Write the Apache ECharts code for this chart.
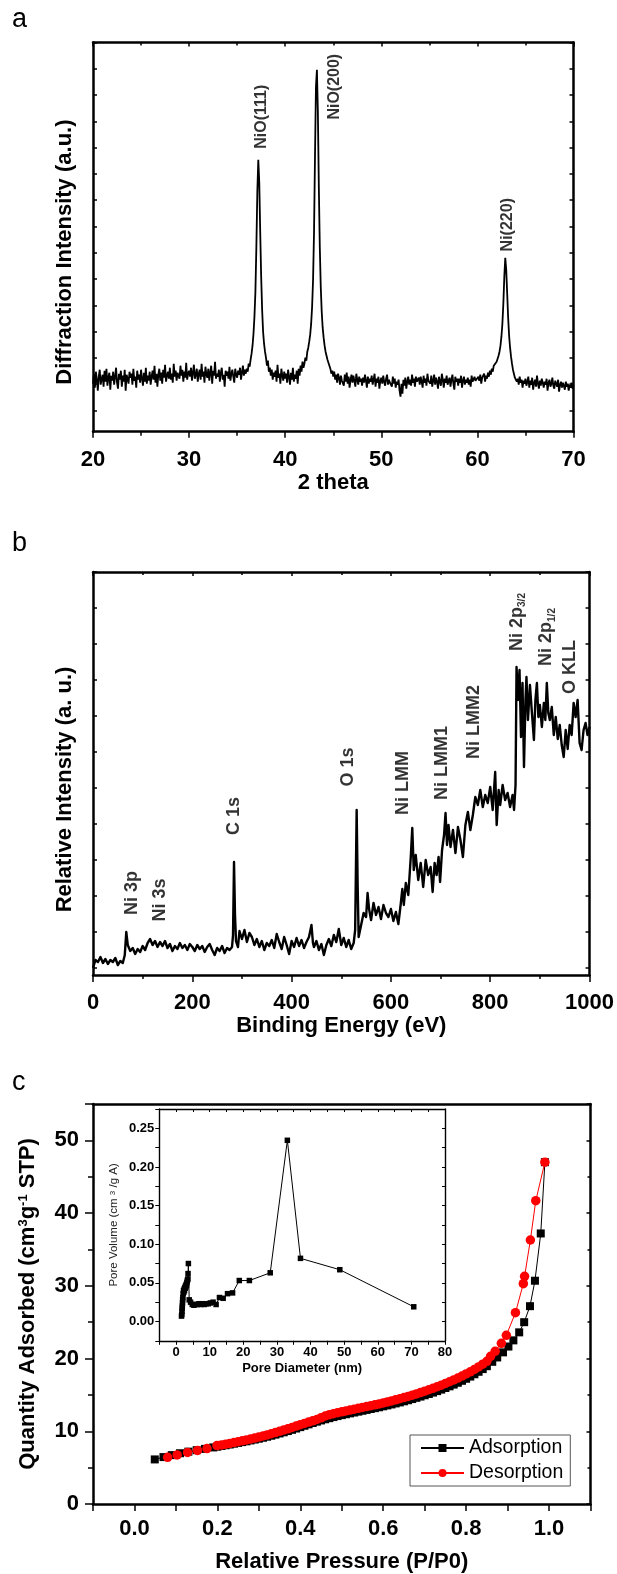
<!DOCTYPE html>
<html><head><meta charset="utf-8">
<script src="https://cdn.jsdelivr.net/npm/echarts@6/dist/echarts.min.js"></script>
<style>html,body{margin:0;padding:0;background:#fff}#chart{width:617px;height:1574px}</style>
</head><body><div id="chart"></div>
<script>
// ---------- Panel a : XRD ----------
const xrdStart = 20, xrdStep = 0.1;
const xrdIntensity = [
48,58,44,60,52,41,55,62,47,53,
57,45,61,50,63,46,54,59,42,56,
51,60,47,55,64,49,43,58,52,61,
45,56,50,62,41,57,53,48,60,54,
58,47,63,51,55,44,61,52,57,49,
62,53,46,59,50,64,48,56,51,60,
47,55,61,52,66,49,58,45,57,63,
51,59,48,62,54,67,50,56,60,53,
64,52,58,49,68,55,61,51,59,57,
53,66,56,62,50,60,54,69,52,58,
61,55,64,51,59,67,53,57,63,50,
58,62,52,68,55,60,49,65,57,54,
63,51,59,66,48,61,56,70,53,58,
55,62,50,59,64,52,57,45,61,56,
60,53,65,51,58,62,55,49,63,57,
54,61,57,64,52,59,66,56,62,58,
63,60,68,65,72,78,86,98,115,140,
185,240,272,250,200,155,122,100,88,80,
74,66,71,60,64,56,62,52,59,55,
61,50,67,54,58,48,63,56,51,60,
53,58,49,62,55,47,59,52,64,50,
57,53,61,48,63,56,66,60,70,64,
68,74,71,80,84,90,97,108,125,152,
200,275,345,362,320,245,185,145,120,104,
94,86,80,76,72,69,66,63,58,61,
55,60,52,57,49,58,54,47,56,51,
53,46,57,50,59,48,55,44,52,57,
49,56,51,45,58,52,47,55,50,53,
46,54,49,57,51,44,55,48,53,50,
56,47,52,58,45,53,49,55,43,51,
54,48,56,50,46,53,57,47,52,49,
51,45,55,48,53,44,50,47,52,41,
35,48,38,52,46,54,43,50,55,47,
52,46,57,49,53,45,55,50,48,54,
47,55,50,44,56,49,53,46,58,51,
53,48,56,45,51,57,47,54,50,43,
55,50,46,58,52,44,53,49,56,47,
51,54,45,52,57,48,42,55,50,53,
46,53,49,56,44,51,55,47,52,49,
54,47,52,45,56,50,48,55,51,53,
49,55,51,57,48,54,52,58,50,56,
53,59,55,61,57,63,60,66,64,67,
70,72,76,80,86,95,108,128,155,174,
162,138,114,96,84,75,68,62,58,54,
56,50,53,47,55,49,52,44,51,48,
53,46,50,55,44,51,47,54,42,49,
52,45,56,48,43,51,46,53,49,44,
50,47,53,41,49,52,45,48,54,46,
43,51,48,45,52,40,47,50,44,49,
46,42,50,45,48,41,47,44,49,43,
46];
const xrdPeakNames = ['NiO(111)', 'NiO(200)', 'Ni(220)'];
const xrdPeakTheta = [37.5, 45.1, 63.1];
const xrdPeakLabelLevel = [315, 345, 207];

// ---------- Panel b : XPS survey ----------
const xpsSpectrum = [
[0,7],[5,15],[10,13],[15,18],[20,12],[25,16],[30,11],[35,15],[40,13],[45,17],[50,10],[55,14],[60,12],[64,20],[67,43],[70,30],[75,24],[80,27],[85,21],[90,26],[95,23],
[100,29],[105,25],[110,32],[115,36],[120,30],[125,34],[130,28],[135,33],[140,29],[145,34],[150,27],[155,31],[160,24],[165,29],[170,26],[175,32],[180,27],[185,30],[190,25],[195,31],
[200,28],[205,24],[210,30],[215,26],[220,29],[225,23],[230,28],[235,31],[240,25],[245,20],[250,27],[255,24],[260,29],[265,22],[270,27],[275,25],[280,28],[282,40],[284,113],[286,60],[288,34],[292,28],[295,44],
[300,36],[305,45],[310,33],[315,42],[320,38],[325,30],[330,36],[335,28],[340,34],[345,25],[350,32],[355,29],[360,35],[365,27],[370,41],[375,33],[380,26],[385,38],[390,30],[395,21],
[400,34],[405,28],[410,37],[415,29],[420,35],[425,27],[430,33],[435,38],[440,50],[443,32],[445,28],[450,34],[455,25],[460,31],[465,20],[470,30],[475,36],[480,29],[485,40],[490,33],[495,46],
[500,30],[505,37],[510,28],[515,35],[520,26],[525,32],[528,45],[531,165],[533,90],[535,38],[540,50],[545,62],[550,58],[553,82],[556,66],[560,55],[565,72],[570,60],[575,68],[580,56],[585,70],[590,62],[595,58],
[600,66],[605,54],[610,63],[615,51],[620,72],[623,86],[626,70],[630,92],[635,80],[640,118],[643,147],[646,105],[650,120],[655,95],[660,112],[665,88],[670,115],[675,100],[680,108],[684,83],[688,112],[692,100],[696,118],[699,93],
[703,125],[707,140],[710,162],[713,130],[716,150],[720,128],[725,145],[730,122],[735,148],[740,135],[745,118],[750,150],[755,163],[760,145],[765,160],[770,178],[775,170],[780,185],[785,168],[790,180],[795,172],
[800,188],[805,165],[810,203],[813,150],[817,185],[820,170],[825,190],[830,175],[835,182],[840,168],[845,180],[848,165],[851,190],[853,308],[856,275],[859,305],[862,238],[865,292],[868,208],[871,275],[873,298],[876,255],[880,290],[884,262],[888,235],[891,275],[894,292],[897,258],
[900,270],[904,248],[908,272],[911,255],[914,292],[917,262],[920,255],[924,268],[928,240],[932,258],[936,236],[940,250],[944,230],[948,218],[952,245],[956,226],[960,250],[964,240],[968,272],[972,258],[976,275],[980,232],[984,225],[988,245],[992,252],[996,240],[1000,248]
];
const xpsPeakNames = ['Ni 3p', 'Ni 3s', 'C 1s', 'O 1s', 'Ni LMM', 'Ni LMM1', 'Ni LMM2', 'Ni 2p{s|3/2}', 'Ni 2p{s|1/2}', 'O KLL'];
const xpsPeakEnergy = [78, 134, 284, 514, 625, 703, 767, 853, 912, 960];
const xpsPeakLabelLevel = [82, 75, 159, 208, 192, 212, 253, 353, 338, 308];

// ---------- Panel c : N2 isotherm ----------
const adsorption = [
[0.049,6.13],[0.07,6.45],[0.09,6.72],[0.11,6.98],[0.13,7.2],[0.15,7.4],[0.17,7.58],[0.19,7.78],
[0.2,7.88],[0.21,7.98],[0.22,8.08],[0.23,8.18],[0.24,8.29],[0.25,8.4],[0.26,8.51],[0.27,8.62],[0.28,8.74],[0.29,8.86],
[0.3,8.98],[0.31,9.11],[0.32,9.25],[0.33,9.39],[0.34,9.54],[0.35,9.7],[0.36,9.86],[0.37,10.03],[0.38,10.2],[0.39,10.38],
[0.4,10.57],[0.41,10.76],[0.42,10.95],[0.43,11.14],[0.44,11.32],[0.45,11.49],[0.46,11.65],[0.47,11.8],[0.48,11.95],[0.49,12.09],
[0.5,12.22],[0.51,12.34],[0.52,12.46],[0.53,12.58],[0.54,12.7],[0.55,12.82],[0.56,12.94],[0.57,13.06],[0.58,13.18],[0.59,13.3],
[0.6,13.43],[0.61,13.56],[0.62,13.69],[0.63,13.83],[0.64,13.97],[0.65,14.12],[0.66,14.27],[0.67,14.43],[0.68,14.6],[0.69,14.77],
[0.7,14.95],[0.71,15.13],[0.72,15.32],[0.73,15.52],[0.74,15.73],[0.75,15.95],[0.76,16.18],[0.77,16.42],[0.78,16.67],[0.79,16.94],
[0.8,17.22],[0.81,17.52],[0.82,17.84],[0.83,18.18],[0.84,18.55],[0.85,18.95],[0.863,19.55],[0.875,20.15],[0.889,20.85],
[0.902,21.65],[0.914,22.5],[0.928,23.6],[0.94,25.0],[0.954,27.2],[0.966,30.7],[0.98,37.2],[0.99,47.0]
];
const desorption = [
[0.08,6.42],[0.103,6.75],[0.128,7.08],[0.152,7.37],[0.175,7.62],[0.199,8.03],
[0.21,8.12],[0.22,8.22],[0.23,8.33],[0.24,8.44],[0.25,8.56],[0.26,8.68],[0.27,8.8],[0.28,8.93],[0.29,9.06],
[0.3,9.2],[0.31,9.35],[0.32,9.5],[0.33,9.66],[0.34,9.82],[0.35,9.99],[0.36,10.16],[0.37,10.34],[0.38,10.52],[0.39,10.71],
[0.4,10.9],[0.41,11.08],[0.42,11.26],[0.43,11.44],[0.44,11.62],[0.45,11.85],[0.46,12.1],[0.47,12.28],[0.48,12.42],[0.49,12.55],
[0.5,12.67],[0.51,12.79],[0.52,12.91],[0.53,13.03],[0.54,13.15],[0.55,13.27],[0.56,13.39],[0.57,13.51],[0.58,13.63],[0.59,13.76],
[0.6,13.89],[0.61,14.03],[0.62,14.17],[0.63,14.32],[0.64,14.47],[0.65,14.63],[0.66,14.79],[0.67,14.96],[0.68,15.14],[0.69,15.32],
[0.7,15.51],[0.71,15.71],[0.72,15.91],[0.73,16.12],[0.74,16.34],[0.75,16.57],[0.76,16.81],[0.77,17.06],[0.78,17.32],[0.79,17.59],
[0.8,17.88],[0.81,18.18],[0.82,18.5],[0.83,18.85],[0.84,19.22],[0.85,19.62],[0.859,20.3],[0.87,21.0],[0.885,22.1],[0.897,23.2],
[0.919,26.3],[0.938,30.3],[0.941,31.3],[0.955,36.3],[0.968,41.7],[0.99,47.0]
];
const poreDistribution = [
[1.6,0.007],[1.7,0.009],[1.75,0.013],[1.8,0.017],[1.85,0.02],[1.9,0.024],[1.95,0.028],[2.0,0.031],[2.1,0.036],[2.2,0.04],
[2.3,0.038],[2.4,0.042],[2.5,0.04],[2.6,0.044],[2.7,0.043],[2.8,0.046],[2.9,0.045],[3.0,0.048],[3.1,0.047],[3.2,0.05],
[3.3,0.052],[3.4,0.054],[3.5,0.055],[3.55,0.062],[3.65,0.075],[3.9,0.028],[4.3,0.025],[4.8,0.022],[5.3,0.021],[5.8,0.022],
[6.3,0.022],[6.8,0.023],[7.3,0.022],[7.8,0.023],[8.4,0.022],[9.0,0.023],[9.6,0.023],[10.2,0.024],[11.0,0.025],[11.9,0.022],
[12.9,0.031],[14.0,0.030],[15.3,0.036],[16.8,0.037],[18.8,0.053],[21.8,0.053],[28.0,0.063],[33.1,0.2345],[37.0,0.0817],[48.7,0.067],[70.7,0.019]
];

// ---------- drawing ----------
const FONT = '"Liberation Sans", Arial, Helvetica, sans-serif';
const BLACK = '#000';
const CLEAR = 'rgba(0,0,0,0)';
const bold = (size) => ({fontFamily: FONT, fontWeight: 'bold', fontSize: size, color: BLACK});
const line = (w) => ({onZero: false, lineStyle: {color: BLACK, width: w}});

const XRD_MAX = 389.2, XPS_MAX = 403;
const xrdTickVals = []; for (let k = 0; k < 15; k++) xrdTickVals.push(XRD_MAX - 26.28 * k);
const xpsTickVals = []; for (let k = 0; k < 12; k++) xpsTickVals.push(7 + 36 * k);

function hiddenLabel() { return {show: false}; }

const chart = echarts.init(document.getElementById('chart'), null, {renderer: 'canvas'});
const option = {
  animation: false,
  backgroundColor: '#fff',
  grid: [
    {left: 93, top: 42.5, width: 480.5, height: XRD_MAX},
    {left: 93, top: 572, width: 499, height: XPS_MAX},
    {left: 93, top: 1104, width: 497.5, height: 401.5},
    {left: 159.3, top: 1109, width: 285.7, height: 231.8}
  ],
  xAxis: [
    {gridIndex: 0, type: 'value', position: 'bottom', min: 20, max: 70, interval: 10,
     axisLine: line(2.5), axisTick: {length: 6, lineStyle: {width: 1.5, color: BLACK}},
     minorTick: {show: true, splitNumber: 2, length: 4, lineStyle: {width: 1.5, color: BLACK}},
     axisLabel: Object.assign({margin: 17}, bold(22)), splitLine: {show: false},
     name: '2 theta', nameLocation: 'middle', nameGap: 38, nameTextStyle: bold(22)},
    {gridIndex: 0, type: 'value', position: 'top', min: 20, max: 70, interval: 10,
     axisLine: line(2.5), axisTick: {inside: true, length: 4, lineStyle: {width: 1.5, color: BLACK}},
     minorTick: {show: true, splitNumber: 2, length: 3, lineStyle: {width: 1.5, color: BLACK}},
     axisLabel: hiddenLabel(), splitLine: {show: false}},
    {gridIndex: 1, type: 'value', position: 'bottom', min: 0, max: 1000, interval: 200,
     axisLine: line(2.5), axisTick: {length: 7, lineStyle: {width: 1.5, color: BLACK}},
     minorTick: {show: true, splitNumber: 2, length: 4, lineStyle: {width: 1.5, color: BLACK}},
     axisLabel: Object.assign({margin: 17, formatter: (v) => String(v)}, bold(22)), splitLine: {show: false},
     name: 'Binding Energy (eV)', nameLocation: 'middle', nameGap: 40, nameTextStyle: bold(22)},
    {gridIndex: 1, type: 'value', position: 'top', min: 0, max: 1000, interval: 200,
     axisLine: line(2.5), axisTick: {inside: true, length: 4, lineStyle: {width: 1.5, color: BLACK}},
     minorTick: {show: true, splitNumber: 2, length: 3, lineStyle: {width: 1.5, color: BLACK}},
     axisLabel: hiddenLabel(), splitLine: {show: false}},
    {gridIndex: 2, type: 'value', position: 'bottom', min: -0.1, max: 1.1, interval: 0.1,
     axisLine: line(2.5), axisTick: {length: 7, lineStyle: {width: 1.5, color: BLACK}},
     axisLabel: Object.assign({margin: 14, formatter: (v) => {
       const k = Math.round(v * 10); return (k >= 0 && k <= 10 && k % 2 === 0) ? (k / 10).toFixed(1) : '';
     }}, bold(22)), splitLine: {show: false},
     name: 'Relative Pressure (P/P0)', nameLocation: 'middle', nameGap: 47, nameTextStyle: bold(22)},
    {gridIndex: 2, type: 'value', position: 'top', min: -0.1, max: 1.1, interval: 0.1,
     axisLine: line(2.5), axisTick: {show: false}, axisLabel: hiddenLabel(), splitLine: {show: false}},
    {gridIndex: 3, type: 'value', position: 'bottom', min: -5, max: 80, interval: 5,
     axisLine: line(1.4), axisTick: {length: 4, lineStyle: {width: 1, color: BLACK}},
     axisLabel: Object.assign({margin: 5, formatter: (v) => (v >= 0 && v % 10 === 0) ? String(v) : ''}, bold(13)),
     splitLine: {show: false},
     name: 'Pore Diameter (nm)', nameLocation: 'middle', nameGap: 21, nameTextStyle: bold(13)},
    {gridIndex: 3, type: 'value', position: 'top', min: -5, max: 80, interval: 5,
     axisLine: line(1.4), axisTick: {inside: true, length: 3, lineStyle: {width: 1, color: BLACK}},
     axisLabel: hiddenLabel(), splitLine: {show: false}}
  ],
  yAxis: [
    {gridIndex: 0, type: 'value', position: 'left', min: 0, max: XRD_MAX,
     axisLine: line(2.5), axisTick: {inside: true, length: 4, customValues: xrdTickVals, lineStyle: {width: 1.5, color: BLACK}},
     axisLabel: hiddenLabel(), splitLine: {show: false},
     name: 'Diffraction Intensity (a.u.)', nameLocation: 'middle', nameRotate: 90, nameGap: 17,
     nameTextStyle: Object.assign({padding: [0, 30, 0, 0]}, bold(22))},
    {gridIndex: 0, type: 'value', position: 'right', min: 0, max: XRD_MAX,
     axisLine: line(2.5), axisTick: {inside: true, length: 4, customValues: xrdTickVals, lineStyle: {width: 1.5, color: BLACK}},
     axisLabel: hiddenLabel(), splitLine: {show: false}},
    {gridIndex: 1, type: 'value', position: 'left', min: 0, max: XPS_MAX,
     axisLine: line(2.5), axisTick: {inside: true, length: 4, customValues: xpsTickVals, lineStyle: {width: 1.5, color: BLACK}},
     axisLabel: hiddenLabel(), splitLine: {show: false},
     name: 'Relative Intensity (a. u.)', nameLocation: 'middle', nameRotate: 90, nameGap: 17,
     nameTextStyle: Object.assign({padding: [0, 32, 0, 0]}, bold(22))},
    {gridIndex: 1, type: 'value', position: 'right', min: 0, max: XPS_MAX,
     axisLine: line(2.5), axisTick: {inside: true, length: 4, customValues: xpsTickVals, lineStyle: {width: 1.5, color: BLACK}},
     axisLabel: hiddenLabel(), splitLine: {show: false}},
    {gridIndex: 2, type: 'value', position: 'left', min: 0, max: 55, interval: 10,
     axisLine: line(2.5), axisTick: {length: 8, lineStyle: {width: 1.5, color: BLACK}},
     minorTick: {show: true, splitNumber: 2, length: 5, lineStyle: {width: 1.5, color: BLACK}},
     axisLabel: Object.assign({margin: 14, formatter: (v) => (v <= 50) ? String(v) : ''}, bold(22)),
     splitLine: {show: false},
     name: 'Quantity Adsorbed (cm{sup|3}g{sup|-1} STP)', nameLocation: 'middle', nameRotate: 90, nameGap: 54,
     nameTextStyle: Object.assign({rich: {sup: {fontFamily: FONT, fontWeight: 'bold', fontSize: 13, color: BLACK, verticalAlign: 'top', lineHeight: 22}}}, bold(22))},
    {gridIndex: 2, type: 'value', position: 'right', min: 0, max: 55, interval: 10,
     axisLine: line(2.5), axisTick: {inside: true, length: 4, lineStyle: {width: 1.5, color: BLACK}},
     minorTick: {show: true, splitNumber: 2, length: 3, lineStyle: {width: 1.5, color: BLACK}},
     axisLabel: hiddenLabel(), splitLine: {show: false}},
    {gridIndex: 3, type: 'value', position: 'left', min: -0.025, max: 0.275, interval: 0.025,
     axisLine: line(1.4), axisTick: {length: 4, lineStyle: {width: 1, color: BLACK}},
     axisLabel: Object.assign({margin: 5, formatter: (v) => {
       const k = Math.round(v / 0.025); return (k >= 0 && k <= 10 && k % 2 === 0) ? (k * 0.025).toFixed(2) : '';
     }}, bold(13)), splitLine: {show: false},
     name: 'Pore Volume (cm {sup|3} /g A)', nameLocation: 'middle', nameRotate: 90, nameGap: 39,
     nameTextStyle: {fontFamily: FONT, fontSize: 11.5, color: '#222',
       rich: {sup: {fontFamily: FONT, fontSize: 8, color: '#222', verticalAlign: 'top', lineHeight: 12}}}},
    {gridIndex: 3, type: 'value', position: 'right', min: -0.025, max: 0.275, interval: 0.025,
     axisLine: line(1.4), axisTick: {inside: true, length: 3, lineStyle: {width: 1, color: BLACK}},
     axisLabel: hiddenLabel(), splitLine: {show: false}}
  ],
  legend: {
    data: ['Adsorption', 'Desorption'], orient: 'vertical', left: 410, top: 1435,
    itemWidth: 43, itemHeight: 10, itemGap: 5, padding: [3, 7, 3, 10],
    borderColor: '#555', borderWidth: 1, borderRadius: 0, backgroundColor: '#fff',
    textStyle: {fontFamily: FONT, fontSize: 19.5, color: BLACK}
  },
  graphic: [
    {type: 'text', left: 12, top: 6, style: {text: 'a', font: '27px ' + FONT, fill: BLACK}},
    {type: 'text', left: 12, top: 530, style: {text: 'b', font: '27px ' + FONT, fill: BLACK}},
    {type: 'text', left: 12, top: 1069, style: {text: 'c', font: '27px ' + FONT, fill: BLACK}}
  ],
  series: [
    {type: 'line', xAxisIndex: 0, yAxisIndex: 0, showSymbol: false, symbol: 'none',
     lineStyle: {color: BLACK, width: 1.8}, silent: true,
     data: xrdIntensity.map((v, i) => [+(xrdStart + i * xrdStep).toFixed(1), v])},
    {type: 'scatter', xAxisIndex: 0, yAxisIndex: 0, symbolSize: 1, itemStyle: {color: CLEAR}, silent: true, z: 5,
     label: {show: true, position: 'inside', rotate: 90, formatter: (p) => p.name, align: 'center', verticalAlign: 'middle',
       fontFamily: FONT, fontWeight: 'bold', fontSize: 16, color: BLACK},
     data: xrdPeakNames.map((n, i) => ({name: n, value: [xrdPeakTheta[i], xrdPeakLabelLevel[i]]}))},
    {type: 'line', xAxisIndex: 2, yAxisIndex: 2, showSymbol: false, symbol: 'none',
     lineStyle: {color: BLACK, width: 2.4, join: 'round'}, silent: true, data: xpsSpectrum},
    {type: 'scatter', xAxisIndex: 2, yAxisIndex: 2, symbolSize: 1, itemStyle: {color: CLEAR}, silent: true, z: 5,
     label: {show: true, position: 'inside', rotate: 90, formatter: (p) => p.name, align: 'center', verticalAlign: 'middle',
       fontFamily: FONT, fontWeight: 'bold', fontSize: 18, color: BLACK, lineHeight: 22,
       rich: {s: {fontFamily: FONT, fontWeight: 'bold', fontSize: 10, color: BLACK, verticalAlign: 'bottom', lineHeight: 10}}},
     data: xpsPeakNames.map((n, i) => ({name: n, value: [xpsPeakEnergy[i], xpsPeakLabelLevel[i]]}))},
    {name: 'Adsorption', type: 'line', xAxisIndex: 4, yAxisIndex: 4, symbol: 'rect', symbolSize: 8,
     itemStyle: {color: BLACK}, lineStyle: {color: BLACK, width: 1}, data: adsorption},
    {name: 'Desorption', type: 'line', xAxisIndex: 4, yAxisIndex: 4, symbol: 'circle', symbolSize: 9.5,
     itemStyle: {color: '#ff0000'}, lineStyle: {color: '#ff0000', width: 1}, data: desorption},
    {type: 'line', xAxisIndex: 6, yAxisIndex: 6, symbol: 'rect', symbolSize: 5.5,
     itemStyle: {color: BLACK}, lineStyle: {color: BLACK, width: 1}, data: poreDistribution}
  ]
};
chart.setOption(option);
</script>
</body></html>
